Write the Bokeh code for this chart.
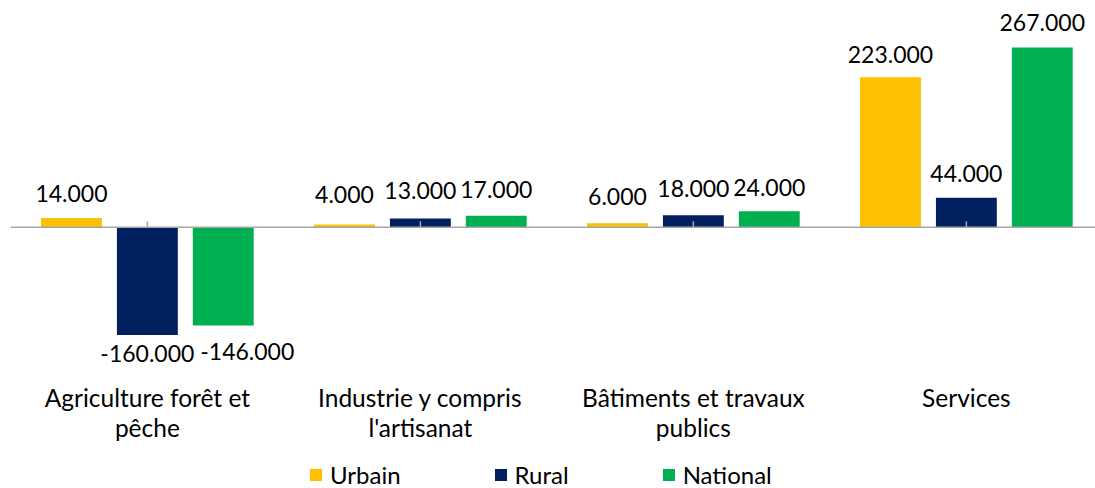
from bokeh.plotting import figure
from bokeh.models import Range1d, Legend, LegendItem, ColumnDataSource
from bokeh.core.properties import value
from bokeh.embed import file_html
from bokeh.resources import INLINE

# ---- data ----
categories = ["Agriculture forêt et\npêche", "Industrie y compris\nl'artisanat",
              "Bâtiments et travaux\npublics", "Services"]
series = ["Urbain", "Rural", "National"]
urbain = [14000, 4000, 6000, 223000]
rural = [-160000, 13000, 18000, 44000]
national = [-146000, 17000, 24000, 267000]

# ---- style ----
colors = ["#FFC000", "#002060", "#00B050"]
bar_offsets = [-0.278, 0.0, 0.278]
bar_width = 0.223
# per-label pixel nudges (Excel's label placement), +down
label_dy = [[-24.5, -30, -27, -23], [18.5, -28, -27, -24], [26, -26.5, -24, -25]]
label_dx = [[0, 0, 0, 0], [0, 0, 0, 0], [24, 0, 0, 0]]
FONT = "Lato"

W, H = 1095, 488
y_min, y_max = -388100, 337000
px_per_unit = H / (y_max - y_min)

p = figure(width=W, height=H, output_backend="svg", toolbar_location=None,
           x_range=Range1d(-0.538, 3.473), y_range=Range1d(y_min, y_max),
           x_axis_type=None, y_axis_type=None, min_border=0,
           outline_line_color=None, background_fill_color="white",
           border_fill_color="white")
p.grid.visible = False

renderers = []
for j, (name, vals) in enumerate(zip(series, [urbain, rural, national])):
    xs = [i + bar_offsets[j] for i in range(len(categories))]
    src = ColumnDataSource(dict(
        x=xs, top=vals, ly=vals,
        lab=[f"{v:,}".replace(",", ".") for v in vals],
        dy=label_dy[j], dx=label_dx[j]))
    r = p.vbar(x="x", top="top", bottom=0, width=bar_width, source=src,
               fill_color=colors[j], line_color=None)
    renderers.append(r)
    p.text(x="x", y="ly", text="lab", source=src, x_offset="dx", y_offset="dy",
           text_align="center", text_baseline="middle", text_font=value(FONT),
           text_font_size="23px", text_color="#000000")

# category axis line and ticks
n = len(categories)
p.segment(x0=[-0.5], y0=[0], x1=[n - 0.5], y1=[0], line_color="#A6A6A6", line_width=1.5)
tick_len = 6 / px_per_unit
p.segment(x0=list(range(n)), y0=[0] * n, x1=list(range(n)), y1=[tick_len] * n,
          line_color="#A6A6A6", line_width=1.5)

# category labels
p.text(x=list(range(n)), y=[0] * n, text=categories, y_offset=156,
       text_align="center", text_baseline="top", text_font=value(FONT),
       text_font_size="24.5px", text_color="#000000", text_line_height=1.04)

legend = Legend(items=[LegendItem(label=s, renderers=[r]) for s, r in zip(series, renderers)],
                orientation="horizontal", location=(308, -1), spacing=92,
                padding=0, margin=0, border_line_color=None, background_fill_alpha=0,
                glyph_width=15, glyph_height=15, label_height=15, label_standoff=7,
                label_text_font=FONT, label_text_font_size="24px",
                label_text_baseline="middle", label_text_color="#000000")
p.add_layout(legend, "center")

open("out.html", "w").write(file_html(p, INLINE))
